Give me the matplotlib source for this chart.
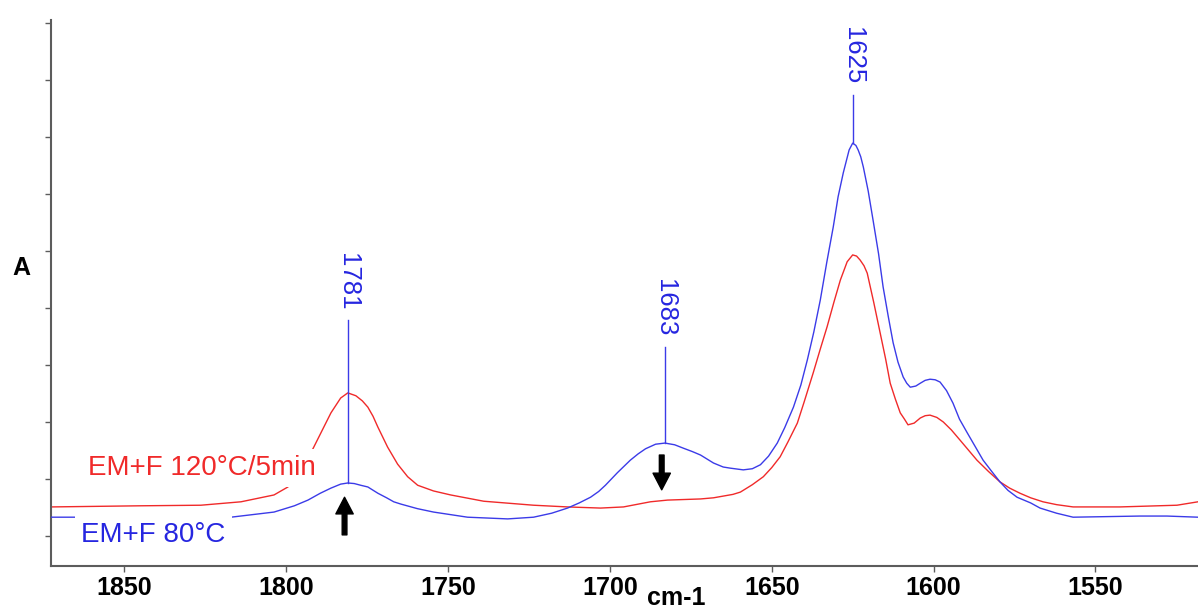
import matplotlib
matplotlib.use("Agg")
import matplotlib.pyplot as plt

plt.rcParams["font.family"] = ["Liberation Sans", "DejaVu Sans"]

RED = "#f02a2a"
BLUE = "#3b3be8"
LABEL_BLUE = "#2626e0"
AXIS = "#5c5c5c"

# ── spectra: wavenumber (cm-1) / absorbance ──────────────────────────────────
wn_120 = [1872.7, 1844.9, 1826.4, 1814.0, 1803.8, 1799.5, 1795.5, 1791.5, 1788.5,
          1786.2, 1783.2, 1781.0, 1778.5, 1776.5, 1774.8, 1773.2, 1771.7, 1768.7,
          1765.6, 1762.5, 1759.4, 1754.5, 1749.2, 1739.0, 1723.6, 1713.1, 1702.9,
          1695.8, 1687.5, 1682.2, 1672.0, 1668.0, 1662.0, 1659.7, 1656.0, 1652.6,
          1650.0, 1647.4, 1645.0, 1642.1, 1640.0, 1637.2, 1635.0, 1632.9, 1630.8,
          1628.8, 1626.7, 1625.0, 1623.8, 1622.7, 1621.5, 1620.5, 1618.5, 1616.5,
          1614.8, 1613.4, 1611.8, 1610.3, 1609.0, 1607.9, 1606.0, 1604.1, 1602.6,
          1601.1, 1599.0, 1597.0, 1594.5, 1591.8, 1586.6, 1583.0, 1579.5, 1576.5,
          1573.3, 1570.0, 1566.2, 1562.0, 1556.9, 1542.4, 1524.8, 1518.3]
abs_120 = [0.051, 0.053, 0.054, 0.060, 0.072, 0.086, 0.112, 0.156, 0.190,
           0.216, 0.242, 0.251, 0.246, 0.237, 0.226, 0.210, 0.191, 0.156,
           0.126, 0.104, 0.089, 0.079, 0.072, 0.061, 0.054, 0.051, 0.049,
           0.051, 0.060, 0.063, 0.065, 0.067, 0.073, 0.077, 0.090, 0.104,
           0.120, 0.139, 0.165, 0.198, 0.235, 0.286, 0.328, 0.367, 0.410,
           0.449, 0.481, 0.493, 0.491, 0.484, 0.474, 0.461, 0.410, 0.356,
           0.310, 0.268, 0.240, 0.216, 0.205, 0.195, 0.198, 0.207, 0.211,
           0.212, 0.208, 0.200, 0.186, 0.168, 0.133, 0.113, 0.095, 0.084,
           0.075, 0.067, 0.060, 0.055, 0.051, 0.051, 0.054, 0.060]

wn_80 = [1872.7, 1865.6, 1841.8, 1817.1, 1803.8, 1797.5, 1793.3, 1789.5, 1786.2,
         1783.2, 1781.0, 1779.0, 1777.0, 1774.8, 1771.7, 1769.0, 1766.8, 1764.6,
         1759.5, 1754.5, 1744.0, 1731.6, 1723.6, 1718.0, 1713.1, 1709.5, 1706.0,
         1703.5, 1701.4, 1697.7, 1693.7, 1691.3, 1689.0, 1685.9, 1683.0, 1680.0,
         1677.3, 1674.5, 1672.0, 1668.0, 1665.0, 1662.8, 1658.8, 1656.0, 1653.5,
         1651.0, 1648.3, 1646.0, 1643.3, 1641.0, 1639.0, 1637.0, 1635.0, 1633.0,
         1631.0, 1629.5, 1627.9, 1626.1, 1625.0, 1624.0, 1623.3, 1622.5, 1621.7,
         1620.2, 1618.7, 1617.0, 1615.6, 1614.0, 1612.5, 1611.0, 1609.4, 1608.3,
         1607.2, 1605.5, 1604.1, 1602.6, 1601.1, 1599.5, 1598.0, 1596.0, 1594.0,
         1592.0, 1589.6, 1584.7, 1582.0, 1579.5, 1577.0, 1574.2, 1570.0, 1567.1,
         1562.0, 1556.9, 1536.2, 1527.9, 1518.3]
abs_80 = [0.033, 0.033, 0.033, 0.033, 0.042, 0.053, 0.063, 0.075, 0.084,
          0.091, 0.093, 0.092, 0.089, 0.086, 0.075, 0.067, 0.060, 0.056,
          0.048, 0.042, 0.033, 0.030, 0.033, 0.040, 0.049, 0.058, 0.068,
          0.078, 0.089, 0.111, 0.133, 0.144, 0.153, 0.161, 0.163, 0.160,
          0.154, 0.148, 0.142, 0.128, 0.121, 0.119, 0.116, 0.118, 0.125,
          0.140, 0.163, 0.190, 0.226, 0.265, 0.309, 0.358, 0.414, 0.480,
          0.542, 0.595, 0.637, 0.677, 0.689, 0.685, 0.677, 0.665, 0.647,
          0.605, 0.554, 0.495, 0.437, 0.385, 0.339, 0.305, 0.279, 0.268,
          0.261, 0.263, 0.268, 0.273, 0.275, 0.274, 0.270, 0.255, 0.233,
          0.205, 0.181, 0.133, 0.113, 0.095, 0.080, 0.068, 0.058, 0.049,
          0.040, 0.033, 0.035, 0.035, 0.033]

# peak markers on the 80°C trace
peaks = [1781, 1683, 1625]
peak_base = [0.093, 0.163, 0.689]
peak_top = [0.379, 0.332, 0.774]
peak_text_y = [0.446, 0.400, 0.842]

# black arrows (up at 1781, down at 1683)
arrow_wn = [1782, 1684]
arrow_from = [0.002, 0.142]
arrow_to = [0.068, 0.081]

xticks = [1850, 1800, 1750, 1700, 1650, 1600, 1550]
yticks = [0.0, 0.1, 0.2, 0.3, 0.4, 0.5, 0.6, 0.7, 0.8, 0.9]

fig = plt.figure(figsize=(11.98, 6.10), dpi=100)
ax = fig.add_axes([51 / 1198, 44 / 610, 1147 / 1198, 546 / 610])

ax.plot(wn_120, abs_120, color=RED, lw=1.0, solid_joinstyle="round", zorder=2)
ax.plot(wn_80, abs_80, color=BLUE, lw=1.0, solid_joinstyle="round", zorder=3)

for p, b, t, ty in zip(peaks, peak_base, peak_top, peak_text_y):
    ax.plot([p, p], [b, t], color=BLUE, lw=1.0, zorder=3)
    ax.text(p, ty, str(p), rotation=-90, ha="center", va="center",
            color=LABEL_BLUE, fontsize=18.5, zorder=4)

for x, y0, y1 in zip(arrow_wn, arrow_from, arrow_to):
    ax.annotate("", xy=(x, y1), xytext=(x, y0),
                arrowprops=dict(facecolor="black", edgecolor="black",
                                width=3.4, headwidth=12.5, headlength=12, shrink=0),
                zorder=5)

ax.text(1861.2, 0.107, "EM+F 120°C/5min", color=RED, fontsize=20,
        ha="left", va="baseline", zorder=6,
        bbox=dict(facecolor="white", edgecolor="none", pad=4.5))
ax.text(1863.4, -0.0105, "EM+F 80°C", color=LABEL_BLUE, fontsize=20,
        ha="left", va="baseline", zorder=6,
        bbox=dict(facecolor="white", edgecolor="none", pad=4.5))

ax.set_xlim(1872.7, 1518.3)
ax.set_ylim(-0.0526, 0.905)
ax.set_xticks(xticks)
ax.set_xticklabels([str(t) for t in xticks], fontsize=18, fontweight="bold")
ax.set_yticks(yticks)
ax.set_yticklabels([])
ax.tick_params(axis="x", direction="out", length=4, width=1, color=AXIS,
               labelcolor="black", pad=3)
ax.tick_params(axis="y", direction="out", length=4, width=1, color=AXIS)

for side in ("top", "right"):
    ax.spines[side].set_visible(False)
for side in ("left", "bottom"):
    ax.spines[side].set_color(AXIS)
    ax.spines[side].set_linewidth(1.5)

fig.text(676 / 1198, 1 - 598 / 610, "cm-1", ha="center", va="center",
         fontsize=18, fontweight="bold")
fig.text(21 / 1198, 1 - 268 / 610, "A", ha="center", va="center",
         fontsize=18, fontweight="bold")

fig.savefig("out.png", dpi=100, facecolor="white")
